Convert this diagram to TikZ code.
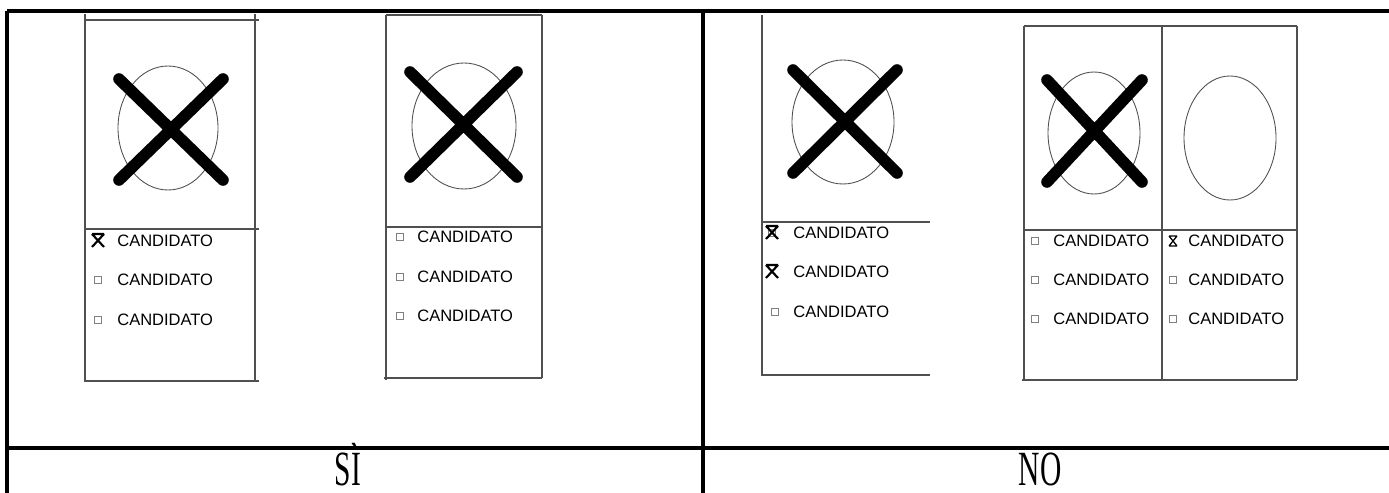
\documentclass[tikz,border=0pt]{standalone}
\usepackage{fontspec}
\setmainfont{Liberation Serif}
\setsansfont{Liberation Sans}
\usetikzlibrary{positioning}
\definecolor{sheetgray}{RGB}{80,80,80}

\begin{document}
\begin{tikzpicture}[x=0.02cm,y=-0.02cm,
    table/.style={line width=2pt},
    sheet/.style={line width=0.6pt,sheetgray},
    oval/.style={line width=0.5pt,sheetgray},
    cross/.style={line width=6.6pt,line cap=round},
    tick/.style={line width=1.2pt},
    votebox/.style={draw=gray,line width=0.4pt,minimum size=4.2pt,inner sep=0pt},
    cand/.style={anchor=west,inner sep=0pt,font=\sffamily\fontsize{9.4}{11}\selectfont},
    answer/.style={anchor=base,inner sep=0pt,xscale=0.6,font=\fontsize{28}{30}\selectfont}]
  \useasboundingbox (0,0) rectangle (1389,493);

  % outer table
  \draw[table] (7,11) -- (1389,11);
  \draw[table] (7,11) -- (7,493);
  \draw[table] (703,11) -- (703,493);
  \draw[table] (7,448) -- (1389,448);
  \node[answer] (si) at (348,485) {SÌ};
  \node[answer] (no) at (1040,485) {NO};

  % ballot 1
  \draw[sheet] (85,14) -- (85,382) (255,14) -- (255,382);
  \draw[sheet] (85,20) -- (259,20) (85,229) -- (259,229) (85,381) -- (259,381);
  \draw[oval] (168,128) ellipse [x radius=50, y radius=62];
  \draw[cross] (119,79) -- (223,180) (223,79) -- (119,180);
  \draw[tick,shift={(98,241)}] (-6,-7) -- (6,6) (6,-7) -- (-6,6) (-6,-7) -- (6,-7);
  \node[votebox] (b1r2) at (98,280) {};
  \node[votebox] (b1r3) at (98,320) {};
  \node[cand] (b1c1) at (117,241) {CANDIDATO};
  \node[cand] (b1c2) at (117,280) {CANDIDATO};
  \node[cand] (b1c3) at (117,320) {CANDIDATO};

  % ballot 2
  \draw[sheet] (386,15) -- (386,380) (542,15) -- (542,378);
  \draw[sheet] (386,15) -- (542,15) (386,227) -- (542,227) (384,378) -- (542,378);
  \draw[oval] (464,126) ellipse [x radius=52, y radius=63];
  \draw[cross] (410,72) -- (517,177) (517,72) -- (410,177);
  \node[votebox] (b2r1) at (400,237) {};
  \node[votebox] (b2r2) at (400,277) {};
  \node[votebox] (b2r3) at (400,316) {};
  \node[cand] (b2c1) at (417,237) {CANDIDATO};
  \node[cand] (b2c2) at (417,277) {CANDIDATO};
  \node[cand] (b2c3) at (417,316) {CANDIDATO};

  % ballot 3 (two marks)
  \draw[sheet] (762,15) -- (762,376);
  \draw[sheet] (762,222) -- (930,222) (762,375) -- (930,375);
  \draw[oval] (843,122) ellipse [x radius=51, y radius=62];
  \draw[cross] (793,70) -- (897,173) (897,70) -- (793,173);
  \node[votebox] (b3r1) at (772,233) {};
  \draw[tick,shift={(772,233)}] (-6,-7) -- (6,6) (6,-7) -- (-6,6) (-6,-7) -- (6,-7);
  \draw[tick,shift={(772,272)}] (-6,-7) -- (6,6) (6,-7) -- (-6,6) (-6,-7) -- (6,-7);
  \node[votebox] (b3r3) at (775,312) {};
  \node[cand] (b3c1) at (793,233) {CANDIDATO};
  \node[cand] (b3c2) at (793,272) {CANDIDATO};
  \node[cand] (b3c3) at (793,312) {CANDIDATO};

  % ballot 4 (two lists)
  \draw[sheet] (1024,26) -- (1024,380) (1162,26) -- (1162,380) (1297,26) -- (1297,380);
  \draw[sheet] (1024,26) -- (1297,26) (1024,230) -- (1297,230) (1022,380) -- (1297,380);
  \draw[oval] (1094,133) ellipse [x radius=46, y radius=61];
  \draw[oval] (1230,138) ellipse [x radius=46, y radius=62];
  \draw[cross] (1047,80) -- (1142,182) (1142,80) -- (1047,182);
  \node[votebox] (b4r1) at (1035,241) {};
  \node[votebox] (b4r2) at (1035,280) {};
  \node[votebox] (b4r3) at (1035,319) {};
  \draw[tick,line width=0.7pt,shift={(1173,241)}] (-4,-5) -- (4,5) (4,-5) -- (-4,5) (-4,-5) -- (4,-5) (-4,5) -- (4,5);
  \node[votebox] (b5r2) at (1173,280) {};
  \node[votebox] (b5r3) at (1173,319) {};
  \node[cand] (b4c1) at (1053,241) {CANDIDATO};
  \node[cand] (b4c2) at (1053,280) {CANDIDATO};
  \node[cand] (b4c3) at (1053,319) {CANDIDATO};
  \node[cand] (b5c1) at (1188,241) {CANDIDATO};
  \node[cand] (b5c2) at (1188,280) {CANDIDATO};
  \node[cand] (b5c3) at (1188,319) {CANDIDATO};
\end{tikzpicture}
\end{document}
